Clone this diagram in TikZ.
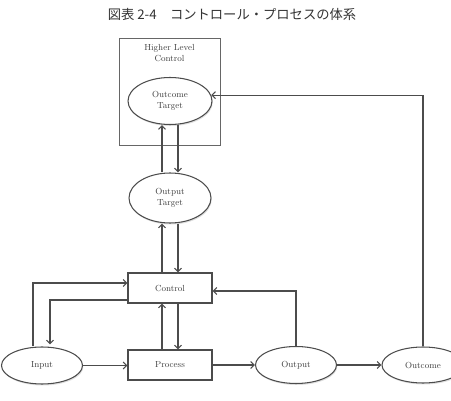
\documentclass[tikz,border=0pt]{standalone}
\usepackage{fontspec}
\newfontfamily\jpfont{Noto Sans CJK JP}
\usetikzlibrary{arrows.meta,shapes.geometric,shadows}
\begin{document}
\begin{tikzpicture}[x=1pt,y=-1pt,
  lbl/.style={font=\fontsize{8.8}{10.8}\selectfont, text=black!75, align=center},
  boxnode/.style={draw=black!70, line width=1.05pt, rectangle, minimum width=84pt, minimum height=30pt, inner sep=0pt, lbl},
  ellnode/.style={draw=black!70, line width=1.05pt, ellipse, fill=white, inner sep=0pt, lbl,
     drop shadow={opacity=0.25, shadow xshift=0.8pt, shadow yshift=-1.5pt}},
  arr/.style={draw=black!70, line width=1.05pt, -{Straight Barb[length=3.5pt,width=7pt]}},
  ln/.style={draw=black!70, line width=1.05pt}]
\useasboundingbox (0,0) rectangle (451,401);
\node[font=\jpfont\fontsize{13.3}{15}\selectfont, text=black!80] (title) at (232,14) {図表 2-4　コントロール・プロセスの体系};
\node[draw=black!60, line width=0.9pt, rectangle, minimum width=101pt, minimum height=107pt, inner sep=0pt] (hl) at (169.5,91.5) {};
\node[lbl] (hltext) at (169.5,53) {Higher Level\\Control};
\node[ellnode, minimum width=84pt, minimum height=47pt] (ot) at (170,101) {Outcome\\Target};
\node[ellnode, minimum width=82pt, minimum height=50pt] (opt) at (170,198) {Output\\Target};
\node[boxnode] (ctrl) at (170,288) {Control};
\node[boxnode] (proc) at (170,365) {Process};
\node[ellnode, minimum width=81pt, minimum height=37pt] (in) at (42,365.5) {Input};
\node[ellnode, minimum width=81pt, minimum height=37pt] (out) at (296,365) {Output};
\node[ellnode, minimum width=82pt, minimum height=36pt] (oc) at (423,365) {Outcome};
% vertical pairs
\draw[arr] ([xshift=-8pt]opt.north) -- ([xshift=-8pt]ot.south);
\draw[arr] ([xshift=8pt]ot.south) -- ([xshift=8pt]opt.north);
\draw[arr] ([xshift=-8pt]ctrl.north) -- ([xshift=-8pt]opt.south);
\draw[arr] ([xshift=8pt]opt.south) -- ([xshift=8pt]ctrl.north);
\draw[arr] ([xshift=-8pt]proc.north) -- ([xshift=-8pt]ctrl.south);
\draw[arr] ([xshift=8pt]ctrl.south) -- ([xshift=8pt]proc.north);
% input loops
\draw[arr] ([xshift=-9pt]in.north) |- ([yshift=5pt]ctrl.west);
\draw[arr] ([yshift=-12pt]ctrl.west) -| ([xshift=8pt,yshift=2pt]in.north);
% main flow
\draw[arr] (in.east) -- (in.east -| proc.west);
\draw[arr] (proc.east) -- (proc.east -| out.west);
\draw[arr] (out.east) -- (out.east -| oc.west);
% feedback
\draw[arr] (out.north) |- ([yshift=-3pt]ctrl.east);
\draw[arr] (oc.north) |- (ot.8.4);
\end{tikzpicture}
\end{document}
